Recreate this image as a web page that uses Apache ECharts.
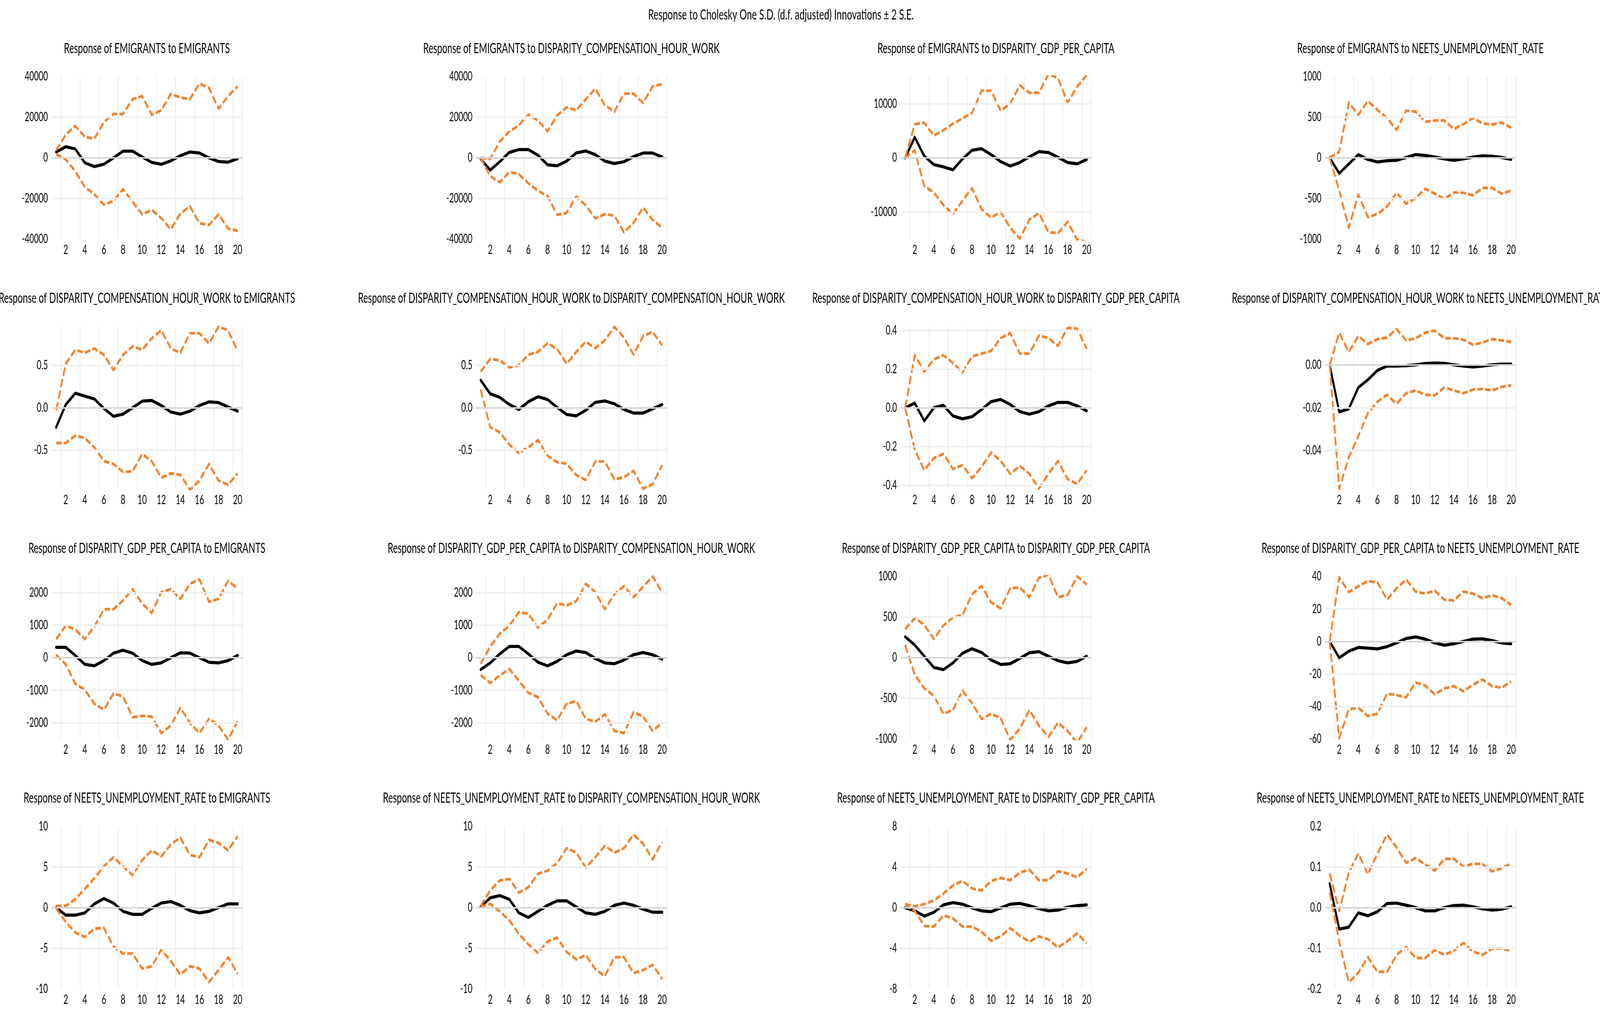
<!DOCTYPE html>
<html>
<head>
<meta charset="utf-8">
<script src="https://cdn.jsdelivr.net/npm/echarts@6.0.0/dist/echarts.min.js"></script>
<style>
html,body{margin:0;padding:0;background:#ffffff;overflow:hidden;}
#chart{position:absolute;left:0;top:0;width:6415px;height:2605px;transform-origin:0 0;}
</style>
</head>
<body>
<div id="chart"></div>
<script>
// ---------------- DATA ----------------
const periods = ['1','2','3','4','5','6','7','8','9','10','11','12','13','14','15','16','17','18','19','20'];
const varNames = ['EMIGRANTS','DISPARITY_COMPENSATION_HOUR_WORK','DISPARITY_GDP_PER_CAPITA','NEETS_UNEMPLOYMENT_RATE'];
const mainTitle = 'Response to Cholesky One S.D. (d.f. adjusted) Innovations \u00B1 2 S.E.';

const resp_E_E = [2900, 5500, 4400, -2400, -4300, -3100, 0, 3300, 3300, 500, -2200, -3150, -1450, 1100, 2900, 2400, 0, -1800, -2100, -350];
const up_E_E   = [3700, 11400, 15700, 10300, 9500, 17600, 21600, 21600, 28900, 30400, 21200, 23400, 31500, 29700, 28900, 36600, 34400, 24200, 30400, 35200];
const lo_E_E   = [1800, -700, -6600, -14300, -17900, -23100, -21200, -15400, -21600, -27800, -25600, -29700, -35200, -27500, -23800, -32200, -33000, -27800, -34800, -35900];

const resp_E_C = [-500, -6000, -1900, 2700, 4100, 4100, 1300, -3400, -3900, -1600, 2400, 3400, 1600, -1600, -2800, -1900, 600, 2400, 2400, 400];
const up_E_C   = [0, -500, 8000, 13000, 16000, 21300, 18400, 13100, 20900, 24900, 23400, 28800, 34100, 25900, 22700, 31600, 31600, 27000, 35200, 36300];
const lo_E_C   = [0, -9000, -12000, -7000, -8000, -12600, -16200, -18700, -28000, -27100, -19000, -23400, -29800, -27700, -28400, -36600, -32000, -24400, -30500, -34400];

const resp_E_G = [0, 3800, 350, -1250, -1650, -2200, -200, 1400, 1700, 600, -700, -1500, -850, 200, 1150, 1000, 100, -850, -1100, -300];
const up_E_G   = [0, 6200, 6500, 4100, 5100, 6300, 7300, 8300, 12400, 12400, 8700, 10000, 13400, 12000, 12000, 15500, 14700, 10200, 13100, 15300];
const lo_E_G   = [0, 1400, -5200, -6400, -8700, -10400, -7900, -5600, -9500, -11000, -10000, -12900, -14900, -11400, -10200, -13700, -13900, -11800, -15100, -15500];

const resp_E_N = [0, -190, -75, 40, -20, -50, -35, -30, 5, 40, 30, 10, -12, -30, -12, 10, 25, 20, 5, -18];
const up_E_N   = [0, 75, 680, 530, 700, 590, 490, 345, 580, 570, 445, 460, 460, 355, 415, 490, 425, 410, 435, 370];
const lo_E_N   = [0, -405, -860, -450, -730, -690, -600, -430, -565, -495, -380, -440, -505, -425, -430, -460, -370, -370, -440, -405];

const resp_C_E = [-0.23, 0.036, 0.172, 0.138, 0.104, -0.007, -0.10, -0.075, 0.0, 0.078, 0.087, 0.027, -0.05, -0.075, -0.04, 0.027, 0.07, 0.061, 0.01, -0.04];
const up_C_E   = [-0.03, 0.52, 0.684, 0.65, 0.70, 0.625, 0.445, 0.625, 0.727, 0.684, 0.82, 0.915, 0.70, 0.65, 0.88, 0.88, 0.76, 0.957, 0.915, 0.667];
const lo_C_E   = [-0.416, -0.416, -0.33, -0.357, -0.468, -0.63, -0.664, -0.758, -0.75, -0.546, -0.63, -0.826, -0.775, -0.79, -0.97, -0.86, -0.664, -0.86, -0.91, -0.775];

const resp_C_C = [0.325, 0.165, 0.123, 0.039, -0.02, 0.072, 0.131, 0.098, 0.005, -0.079, -0.096, -0.029, 0.064, 0.081, 0.047, -0.02, -0.062, -0.062, -0.012, 0.039];
const up_C_C   = [0.426, 0.577, 0.56, 0.476, 0.502, 0.628, 0.66, 0.763, 0.695, 0.52, 0.66, 0.78, 0.704, 0.796, 0.956, 0.83, 0.628, 0.847, 0.897, 0.737];
const lo_C_C   = [0.215, -0.23, -0.29, -0.434, -0.534, -0.466, -0.382, -0.567, -0.643, -0.66, -0.795, -0.853, -0.635, -0.635, -0.845, -0.82, -0.744, -0.955, -0.904, -0.677];

const resp_C_G = [0, 0.024, -0.068, 0, 0.013, -0.042, -0.057, -0.046, -0.009, 0.032, 0.043, 0.017, -0.02, -0.033, -0.02, 0.01, 0.028, 0.028, 0.01, -0.016];
const up_C_G   = [0, 0.272, 0.187, 0.25, 0.272, 0.231, 0.183, 0.265, 0.28, 0.294, 0.36, 0.387, 0.28, 0.28, 0.373, 0.36, 0.32, 0.413, 0.409, 0.305];
const lo_C_G   = [0, -0.216, -0.322, -0.26, -0.238, -0.316, -0.297, -0.364, -0.305, -0.231, -0.275, -0.341, -0.301, -0.341, -0.418, -0.341, -0.275, -0.368, -0.394, -0.323];

const resp_C_N = [0, -0.0219, -0.0205, -0.0105, -0.0069, -0.0025, -0.0005, -0.0005, -0.0003, 0.0001, 0.0007, 0.0009, 0.0008, 0.0001, -0.0005, -0.0009, -0.0005, 0.0001, 0.0004, 0.0004];
const up_C_N   = [0, 0.0151, 0.0061, 0.0135, 0.0098, 0.0121, 0.0128, 0.0168, 0.0115, 0.0125, 0.0151, 0.0161, 0.0125, 0.0125, 0.0118, 0.0095, 0.0105, 0.0121, 0.0115, 0.0108];
const lo_C_N   = [0, -0.0579, -0.0432, -0.0332, -0.0225, -0.0172, -0.0139, -0.0182, -0.0132, -0.0119, -0.0139, -0.0142, -0.0105, -0.0119, -0.0132, -0.0115, -0.0112, -0.0119, -0.0102, -0.0095];

const resp_G_E = [320, 320, 70, -205, -250, -90, 140, 230, 140, -90, -205, -160, 0, 150, 140, 0, -140, -160, -90, 70];
const up_G_E   = [570, 985, 870, 570, 960, 1490, 1490, 1760, 2110, 1670, 1375, 2015, 2110, 1810, 2270, 2410, 1720, 1810, 2360, 2130];
const lo_G_E   = [90, -205, -800, -985, -1420, -1600, -1100, -1190, -1830, -1790, -1810, -2320, -2090, -1540, -2000, -2320, -1880, -2090, -2520, -1950];

const resp_G_C = [-365, -160, 115, 345, 345, 115, -140, -250, -115, 90, 205, 160, -25, -160, -185, -70, 90, 160, 90, -45];
const up_G_C   = [-185, 345, 735, 985, 1400, 1350, 920, 1170, 1675, 1605, 1740, 2270, 2015, 1490, 1950, 2200, 1860, 2180, 2500, 2015];
const lo_G_C   = [-530, -780, -550, -345, -710, -1080, -1215, -1720, -1925, -1420, -1330, -1880, -1970, -1740, -2250, -2320, -1675, -1810, -2250, -2000];

const resp_G_G = [257, 156, 18, -120, -147, -64, 55, 110, 64, -28, -83, -74, -9, 60, 74, 18, -37, -64, -46, 18];
const up_G_G   = [350, 487, 404, 230, 395, 496, 524, 781, 882, 680, 607, 855, 864, 744, 983, 1020, 744, 772, 1002, 900];
const lo_G_G   = [156, -211, -377, -469, -689, -643, -404, -561, -754, -689, -744, -1011, -873, -643, -836, -974, -800, -901, -1048, -855];

const resp_G_N = [0, -10.1, -6, -3.7, -4.1, -4.6, -3.2, -0.9, 1.8, 2.8, 1.4, -0.9, -2.3, -1.4, 0, 1.4, 1.6, 0.5, -0.9, -1.4];
const up_G_N   = [0, 39.5, 30.3, 33.9, 37.2, 36.2, 25.7, 32.6, 38.1, 30.7, 29.4, 31.2, 25.7, 25.2, 30.7, 29.4, 26.6, 28.4, 26.6, 22.5];
const lo_G_N   = [0, -59.6, -41.7, -40.8, -45.9, -44.5, -32.1, -33, -34.4, -25.2, -27.1, -32.6, -28.9, -27.5, -30.7, -26.6, -23.4, -27.5, -28.4, -24.8];

const resp_N_E = [0, -0.93, -0.93, -0.65, 0.46, 1.11, 0.56, -0.46, -0.83, -0.83, -0.09, 0.56, 0.74, 0.28, -0.37, -0.65, -0.46, 0, 0.46, 0.46];
const up_N_E   = [0.19, 0.19, 1.02, 2.31, 3.6, 5.09, 6.2, 5.09, 3.98, 5.83, 7.04, 6.3, 7.78, 8.61, 6.48, 6.2, 8.33, 7.96, 7.04, 8.8];
const lo_N_E   = [-0.09, -1.76, -3.06, -3.61, -2.59, -2.5, -4.81, -5.65, -5.65, -7.5, -7.22, -5.19, -6.57, -8.24, -7.22, -7.5, -9.17, -7.69, -6.11, -8.15];

const resp_N_C = [0.09, 1.2, 1.48, 1.02, -0.65, -1.2, -0.46, 0.28, 0.83, 0.83, 0.09, -0.65, -0.83, -0.46, 0.28, 0.56, 0.28, -0.19, -0.56, -0.56];
const up_N_C   = [0.19, 2.13, 3.33, 3.52, 1.85, 2.5, 4.17, 4.54, 5.46, 7.31, 6.76, 4.91, 6.2, 7.59, 6.76, 7.31, 8.98, 7.87, 5.93, 8.06];
const lo_N_C   = [0.09, 0.46, -0.46, -1.57, -3.24, -4.54, -5.56, -4.17, -3.7, -5.46, -6.39, -5.83, -7.59, -8.43, -6.11, -6.11, -8.06, -7.69, -7.04, -8.8];

const resp_N_G = [0, -0.32, -0.84, -0.47, 0.27, 0.49, 0.34, -0.03, -0.32, -0.4, -0.03, 0.34, 0.41, 0.19, -0.1, -0.32, -0.25, 0.04, 0.19, 0.27];
const up_N_G   = [0.34, 0.12, 0.34, 0.71, 1.37, 2.18, 2.63, 1.89, 1.67, 2.63, 2.92, 2.7, 3.44, 3.73, 2.7, 2.7, 3.58, 3.36, 2.99, 3.81];
const lo_N_G   = [0.2, -0.32, -1.8, -1.87, -0.77, -1.06, -1.87, -1.87, -2.39, -3.27, -2.83, -2.02, -2.76, -3.35, -2.83, -3.13, -3.94, -3.27, -2.54, -3.5];

const resp_N_N = [0.059, -0.053, -0.048, -0.013, -0.02, -0.01, 0.01, 0.011, 0.006, 0, -0.008, -0.008, 0, 0.005, 0.006, 0.002, -0.003, -0.006, -0.004, 0.002];
const up_N_N   = [0.084, -0.008, 0.086, 0.133, 0.082, 0.133, 0.18, 0.148, 0.11, 0.122, 0.106, 0.091, 0.12, 0.12, 0.101, 0.108, 0.107, 0.089, 0.097, 0.108];
const lo_N_N   = [0.038, -0.084, -0.184, -0.16, -0.122, -0.158, -0.158, -0.116, -0.097, -0.124, -0.124, -0.105, -0.116, -0.106, -0.087, -0.108, -0.116, -0.101, -0.101, -0.106];

const yMins  = [-40000, -40000, -15000, -1000,  -0.96, -0.96, -0.42, -0.058,  -2500, -2500, -1000, -60,  -10, -10, -8, -0.2];
const yMaxs  = [ 40000,  40000,  15000,  1000,   0.96,  0.96,  0.42,  0.018,   2500,  2500,  1000,  40,   10,  10,  8,  0.2];
const ySteps = [ 20000,  20000,   5000,   500,   0.02,  0.02,  0.02,  0.002,    500,   500,   500,  20,    5,   5,  4,  0.1];
const yDecimals = [0, 0, 0, 0,  1, 1, 1, 2,  0, 0, 0, 0,  0, 0, 0, 1];
const yTickLabels = [
  [40000, 20000, 0, -20000, -40000],
  [40000, 20000, 0, -20000, -40000],
  [10000, 0, -10000],
  [1000, 500, 0, -500, -1000],
  [0.5, 0, -0.5],
  [0.5, 0, -0.5],
  [0.4, 0.2, 0, -0.2, -0.4],
  [0, -0.02, -0.04],
  [2000, 1000, 0, -1000, -2000],
  [2000, 1000, 0, -1000, -2000],
  [1000, 500, 0, -500, -1000],
  [40, 20, 0, -20, -40, -60],
  [10, 5, 0, -5, -10],
  [10, 5, 0, -5, -10],
  [8, 4, 0, -4, -8],
  [0.2, 0.1, 0, -0.1, -0.2]
];

const panelResp = [resp_E_E, resp_E_C, resp_E_G, resp_E_N, resp_C_E, resp_C_C, resp_C_G, resp_C_N,
                   resp_G_E, resp_G_C, resp_G_G, resp_G_N, resp_N_E, resp_N_C, resp_N_G, resp_N_N];
const panelUp   = [up_E_E, up_E_C, up_E_G, up_E_N, up_C_E, up_C_C, up_C_G, up_C_N,
                   up_G_E, up_G_C, up_G_G, up_G_N, up_N_E, up_N_C, up_N_G, up_N_N];
const panelLo   = [lo_E_E, lo_E_C, lo_E_G, lo_E_N, lo_C_E, lo_C_C, lo_C_G, lo_C_N,
                   lo_G_E, lo_G_C, lo_G_G, lo_G_N, lo_N_E, lo_N_C, lo_N_G, lo_N_N];

// ---------------- LAYOUT (designed at 6415 x 2605, fitted to the viewport) ----------------
const DW = 6415, DH = 2605;
const el = document.getElementById('chart');
const vw = window.innerWidth || DW, vh = window.innerHeight || DH;
const kx = Math.min(1, vw / DW), ky = Math.min(1, vh / DH);
if (kx < 1 || ky < 1) el.style.transform = 'scale(' + kx + ',' + ky + ')';

const FONT = 'Lato';
const ORANGE = '#F4812A';
const GRID_LEFT0 = 206, COL_STEP = 1702, GRID_W = 766;
const GRID_TOP0 = 196, ROW_STEP = 639.5, GRID_H = 416;

const chart = echarts.init(el, null, {renderer: 'canvas', width: DW, height: DH});
const grids = [], xAxes = [], yAxes = [], series = [], titles = [];

titles.push({
  text: mainTitle, left: 3131, top: 20, textAlign: 'center', padding: 0,
  textStyle: {fontFamily: FONT, fontSize: 37, fontWeight: 'normal', color: '#000'}
});

for (let p = 0; p < 16; p++) {
  const r = Math.floor(p / 4), c = p % 4;
  const left = GRID_LEFT0 + c * COL_STEP;
  const top = GRID_TOP0 + r * ROW_STEP;
  grids.push({left: left, top: top, width: GRID_W, height: GRID_H});

  titles.push({
    text: 'Response of ' + varNames[r] + ' to ' + varNames[c],
    left: left + GRID_W / 2, top: top - 90, textAlign: 'center', padding: 0,
    textStyle: {fontFamily: FONT, fontSize: 36, fontWeight: 'normal', color: '#000'}
  });

  xAxes.push({
    type: 'category', gridIndex: p, data: periods, boundaryGap: true,
    axisLine: {show: false}, axisTick: {show: false},
    axisLabel: {interval: (idx) => idx % 2 === 1, fontFamily: FONT, fontSize: 32, color: '#000', margin: 12},
    splitLine: {show: true, interval: (idx) => idx % 2 === 1, lineStyle: {color: '#efefef', width: 4}}
  });

  const labels = yTickLabels[p], dec = yDecimals[p], step = ySteps[p];
  const yMin = yMins[p], yMax = yMaxs[p];
  yAxes.push({
    type: 'value', gridIndex: p, min: yMin, max: yMax, interval: step,
    axisLine: {show: false}, axisTick: {show: false}, splitLine: {show: false},
    axisLabel: {
      fontFamily: FONT, fontSize: 32, color: '#000', margin: 14,
      padding: [0, 0, 20, 0],
      formatter: function (v) {
        for (const l of labels) { if (Math.abs(l - v) < step * 1e-3) return l.toFixed(dec); }
        return '';
      }
    }
  });

  const eps = step * 1e-3;
  const gridVals = labels.filter(l => l > yMin + eps && l < yMax - eps);
  series.push({
    type: 'line', xAxisIndex: p, yAxisIndex: p, data: panelResp[p], z: 1,
    symbol: 'none', silent: true, lineStyle: {opacity: 0},
    markLine: {
      silent: true, symbol: ['none', 'none'], label: {show: false}, animation: false,
      data: gridVals.map(l => ({yAxis: l, lineStyle: {color: Math.abs(l) < eps ? '#d6d6d6' : '#efefef', width: 4, type: 'solid'}}))
    }
  });
  series.push({
    type: 'line', xAxisIndex: p, yAxisIndex: p, data: panelResp[p], z: 3,
    symbol: 'none', lineStyle: {color: '#000', width: 8, join: 'round', cap: 'round'}
  });
  series.push({
    type: 'line', xAxisIndex: p, yAxisIndex: p, data: panelUp[p], z: 4,
    symbol: 'none', lineStyle: {color: ORANGE, width: 7, type: [22, 9], join: 'round'}
  });
  series.push({
    type: 'line', xAxisIndex: p, yAxisIndex: p, data: panelLo[p], z: 4,
    symbol: 'none', lineStyle: {color: ORANGE, width: 7, type: [22, 9], join: 'round'}
  });
}

chart.setOption({animation: false, backgroundColor: '#ffffff', title: titles, grid: grids, xAxis: xAxes, yAxis: yAxes, series: series});
</script>
</body>
</html>
